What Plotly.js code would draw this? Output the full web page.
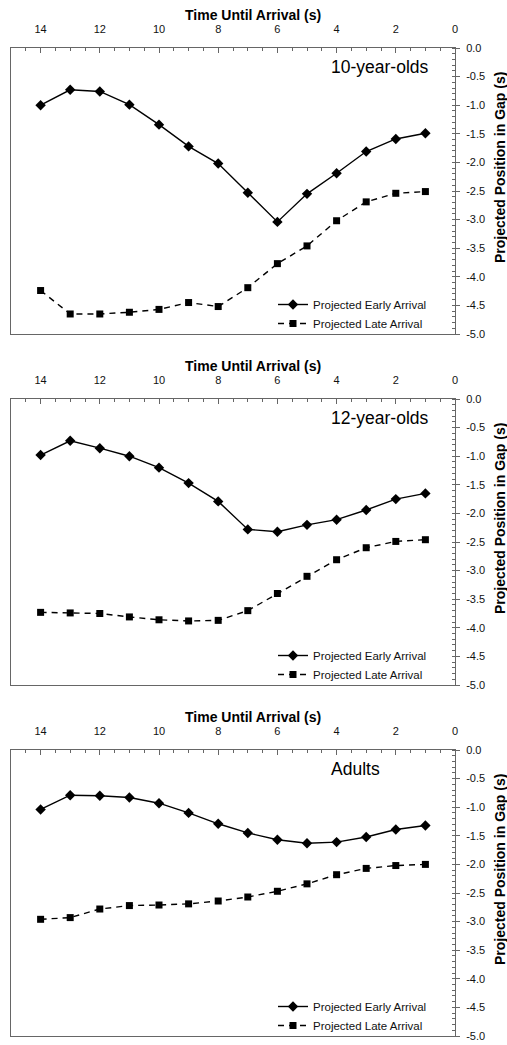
<!DOCTYPE html>
<html>
<head>
<meta charset="utf-8">
<script src="https://cdn.plot.ly/plotly-3.0.1.min.js"></script>
<style>html,body{margin:0;padding:0;background:#fff;}#chart{width:507px;height:1045px;}</style>
</head>
<body>
<div id="chart"></div>
<script>
// ---- data ----
const timeSec = [14, 13, 12, 11, 10, 9, 8, 7, 6, 5, 4, 3, 2, 1];
const panelLabels = ["10-year-olds", "12-year-olds", "Adults"];
const seriesNames = ["Projected Early Arrival", "Projected Late Arrival"];

const early10 = [-1.00, -0.73, -0.76, -0.99, -1.34, -1.72, -2.02, -2.53, -3.04, -2.55, -2.19, -1.81, -1.59, -1.49];
const late10  = [-4.24, -4.65, -4.65, -4.62, -4.57, -4.45, -4.52, -4.19, -3.77, -3.46, -3.02, -2.69, -2.54, -2.51];

const early12 = [-0.98, -0.73, -0.86, -1.00, -1.20, -1.47, -1.79, -2.28, -2.32, -2.20, -2.11, -1.94, -1.75, -1.65];
const late12  = [-3.73, -3.74, -3.75, -3.81, -3.86, -3.88, -3.87, -3.70, -3.40, -3.10, -2.81, -2.60, -2.49, -2.46];

const earlyAd = [-1.04, -0.79, -0.80, -0.83, -0.93, -1.10, -1.29, -1.45, -1.57, -1.63, -1.61, -1.52, -1.39, -1.32];
const lateAd  = [-2.96, -2.93, -2.78, -2.72, -2.71, -2.69, -2.64, -2.57, -2.47, -2.34, -2.18, -2.07, -2.02, -2.00];

const xTickVals = [14, 12, 10, 8, 6, 4, 2, 0];
const yTickVals = [0, -0.5, -1, -1.5, -2, -2.5, -3, -3.5, -4, -4.5, -5];
const yTickText = ["0.0", "-0.5", "-1.0", "-1.5", "-2.0", "-2.5", "-3.0", "-3.5", "-4.0", "-4.5", "-5.0"];
const xTitle = "Time Until Arrival (s)";
const yTitle = "Projected Position in Gap (s)";

// ---- layout helpers ----
const W = 507, H = 1045;
const px = v => v / W;
const py = v => 1 - v / H;
const FONT = "Liberation Sans, Arial, Helvetica, sans-serif";

const earlySets = [early10, early12, earlyAd];
const lateSets = [late10, late12, lateAd];
const boxTop = [48, 399, 750];
const boxBot = [334, 685, 1036];

const traces = [];
const layout = {
  width: W, height: H,
  margin: {l: 0, r: 0, t: 0, b: 0},
  paper_bgcolor: "#fff", plot_bgcolor: "#fff",
  showlegend: true,
  font: {family: FONT, color: "#111", size: 11},
  annotations: []
};

for (let i = 0; i < 3; i++) {
  const n = i === 0 ? "" : String(i + 1);
  const legName = "legend" + n;
  traces.push({
    x: timeSec, y: earlySets[i], xaxis: "x" + n, yaxis: "y" + n,
    type: "scatter", mode: "lines+markers", name: seriesNames[0],
    legend: legName,
    line: {color: "#000", width: 1.4},
    marker: {symbol: "diamond", size: 8, color: "#000"}
  });
  traces.push({
    x: timeSec, y: lateSets[i], xaxis: "x" + n, yaxis: "y" + n,
    type: "scatter", mode: "lines+markers", name: seriesNames[1],
    legend: legName,
    line: {color: "#000", width: 1.4, dash: "6px,5px"},
    marker: {symbol: "square", size: 7, color: "#000"}
  });

  layout["xaxis" + n] = {
    domain: [px(11), px(455)],
    anchor: "y" + n,
    side: "top",
    range: [15, 0],
    tickvals: xTickVals,
    ticks: "inside", ticklen: 5, tickcolor: "#666", tickwidth: 1,
    minor: {dtick: 0.5, ticks: "inside", ticklen: 3, tickcolor: "#666", tickwidth: 1},
    showline: true, linecolor: "#666", linewidth: 1, mirror: true,
    showgrid: false, zeroline: false,
    tickfont: {family: FONT, size: 11, color: "#111"},
    ticklabelstandoff: 10,
    fixedrange: true
  };
  layout["yaxis" + n] = {
    domain: [py(boxBot[i]), py(boxTop[i])],
    anchor: "x" + n,
    side: "right",
    range: [-5, 0],
    tickvals: yTickVals, ticktext: yTickText,
    ticks: "outside", ticklen: 4, tickcolor: "#666", tickwidth: 1,
    minor: {dtick: 0.1, ticks: "inside", ticklen: 3, tickcolor: "#666", tickwidth: 1},
    showline: true, linecolor: "#666", linewidth: 1, mirror: true,
    showgrid: false, zeroline: false,
    tickfont: {family: FONT, size: 11, color: "#111"},
    ticklabelstandoff: 4,
    fixedrange: true
  };
  layout[legName] = {
    x: px(273), xanchor: "left",
    y: py(boxBot[i] + 4), yanchor: "bottom",
    bgcolor: "rgba(0,0,0,0)",
    font: {family: FONT, size: 11.5, color: "#111"},
    tracegroupgap: 0,
    itemclick: false, itemdoubleclick: false
  };

  // top x-axis title
  layout.annotations.push({
    xref: "paper", yref: "paper", x: px(253), y: py(boxTop[i] - 33),
    xanchor: "center", yanchor: "middle", showarrow: false,
    text: "<b>" + xTitle + "</b>",
    font: {family: FONT, size: 14, color: "#000"}
  });
  // right y-axis title
  layout.annotations.push({
    xref: "paper", yref: "paper", x: px(500), y: py(boxTop[i] + 120),
    xanchor: "center", yanchor: "middle", showarrow: false, textangle: -90,
    text: "<b>" + yTitle + "</b>",
    font: {family: FONT, size: 14, color: "#000"}
  });
  // panel label
  layout.annotations.push({
    xref: "paper", yref: "paper", x: px(329), y: py(boxTop[i] + 19),
    xanchor: "left", yanchor: "middle", showarrow: false,
    text: panelLabels[i],
    font: {family: FONT, size: 17.5, color: "#000"}
  });
}

Plotly.newPlot("chart", traces, layout, {displayModeBar: false, staticPlot: true});
</script>
</body>
</html>
